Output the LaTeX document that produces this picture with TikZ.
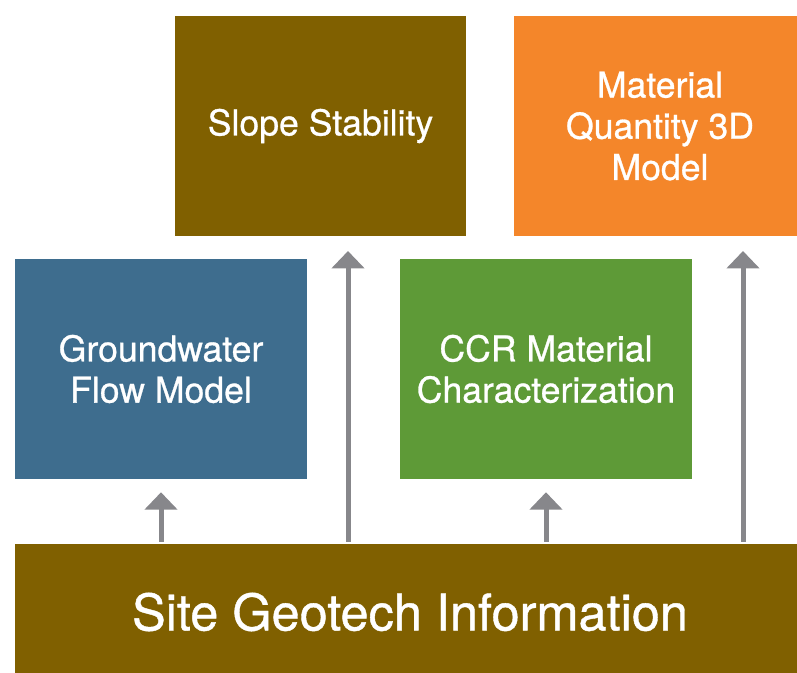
\documentclass[tikz,border=0pt]{standalone}
\usepackage{fontspec}
\setmainfont{TeX Gyre Heros}[FakeBold=0.8]
\usetikzlibrary{arrows.meta}
\definecolor{geobrown}{HTML}{806000}
\definecolor{qtyorange}{HTML}{F4862A}
\definecolor{gwblue}{HTML}{3E6D8E}
\definecolor{ccrgreen}{HTML}{5E9A37}
\definecolor{arrowgray}{HTML}{87878B}
\begin{document}
\begin{tikzpicture}[x=0.75bp,y=-0.75bp,
    box/.style={fill=#1,text=white,inner sep=0pt,align=center,
      minimum width=218.5bp,minimum height=165bp,
      font=\fontsize{26.8}{31}\selectfont},
    up/.style={draw=arrowgray,line width=3.75bp,
      -{Triangle[width=24bp,length=13bp]}}]
      \useasboundingbox (0,0) rectangle (797,673);
      \clip (0,0) rectangle (797,673);
      \draw
        (320.5,126) node[box=geobrown] (slope){Slope Stability}
        (660,126) node[box=qtyorange] (qty){Material\\Quantity 3D\\Model}
        (161,369) node[box=gwblue] (gw){Groundwater\\Flow Model}
        (546,369) node[box=ccrgreen] (ccr){CCR Material\\Characterization}
        (410,612) node[box=geobrown,minimum width=592.5bp,minimum height=102bp,
          font=\fontsize{38}{44}\selectfont] (geo){Site Geotech Information};
      \coordinate (s) at (348,251);
      \coordinate (q) at (743,251);
      \begin{scope}[up]
        \draw ([yshift=1.5bp]geo.north -| gw) to ([yshift=-9.75bp]gw.south);
        \draw ([yshift=1.5bp]geo.north -| s) to (s);
        \draw ([yshift=1.5bp]geo.north -| ccr) to ([yshift=-9.75bp]ccr.south);
        \draw ([yshift=1.5bp]geo.north -| q) to (q);
      \end{scope}
    \end{tikzpicture}
\end{document}
